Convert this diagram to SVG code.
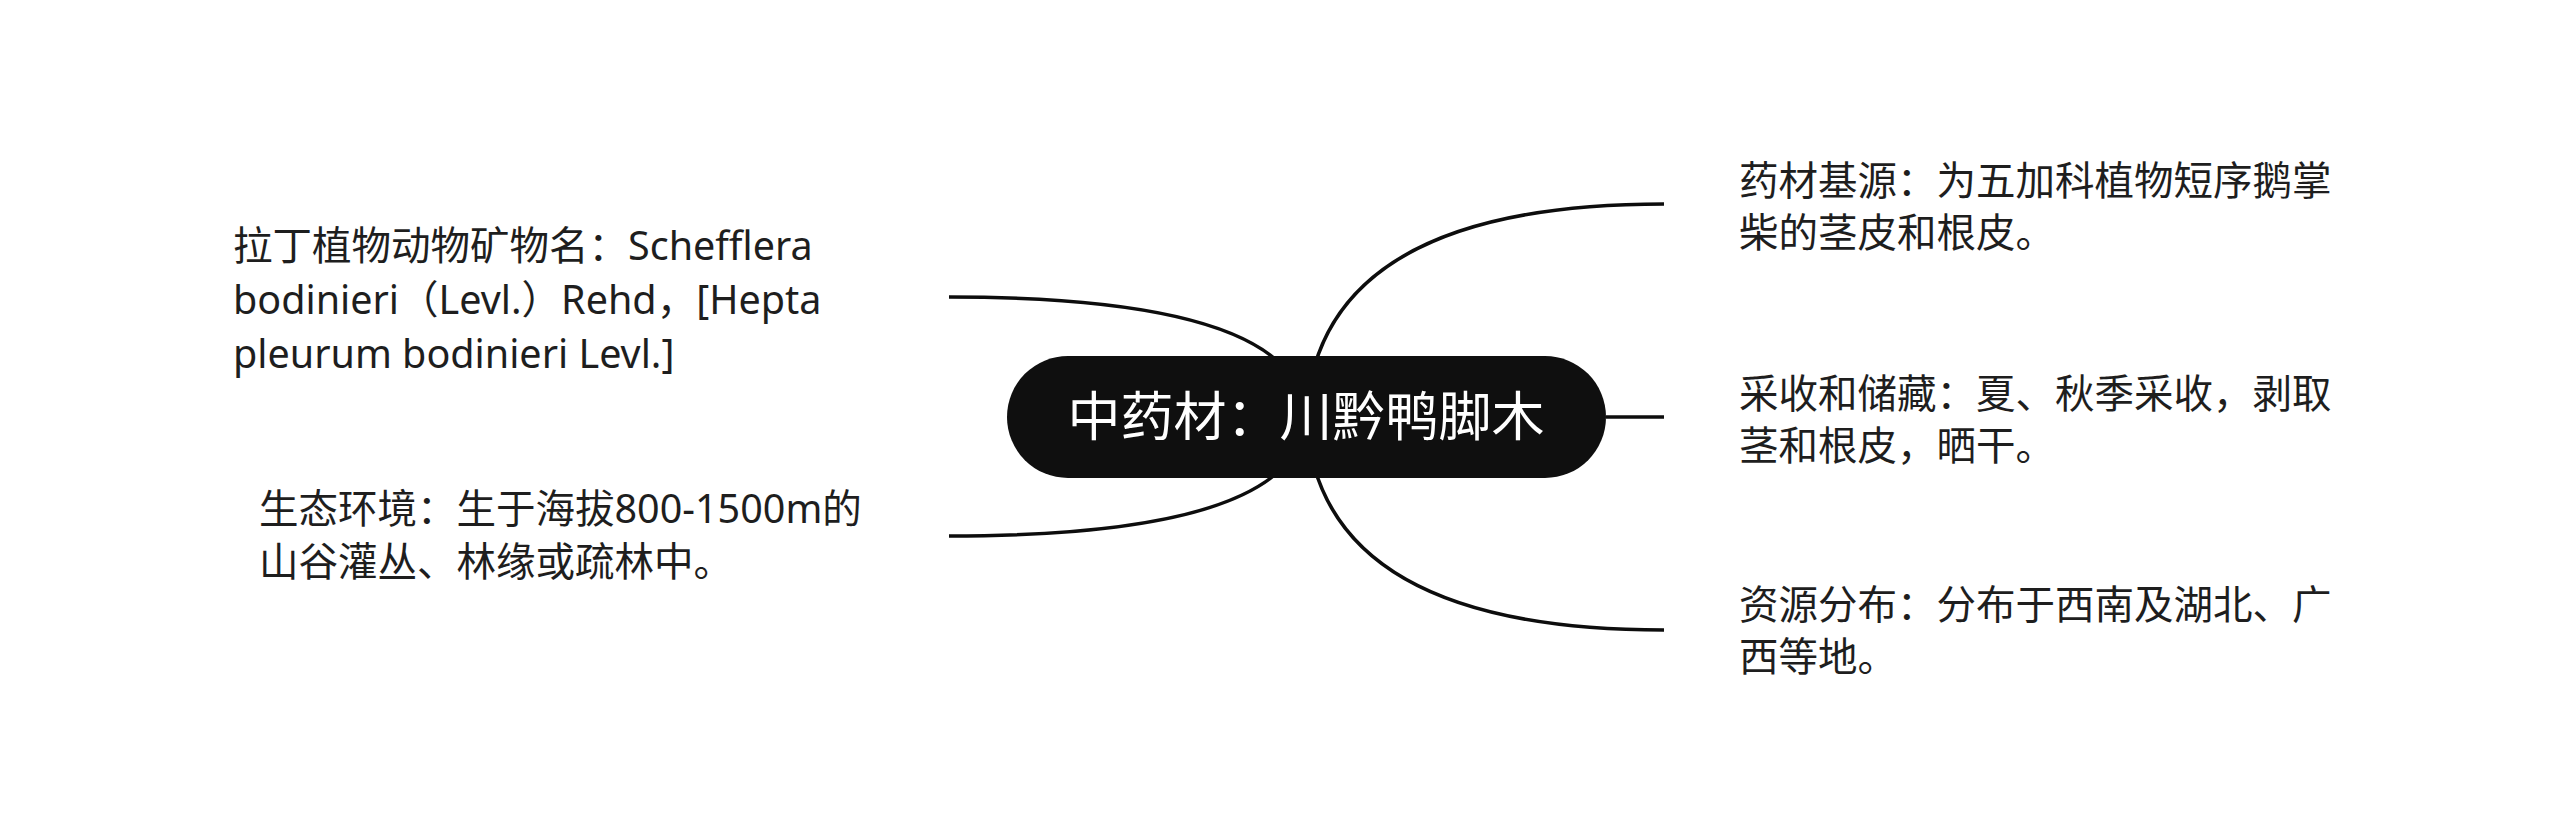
<svg xmlns="http://www.w3.org/2000/svg" width="2560" height="834" viewBox="0 0 2560 834">
<style>
.bg{fill:#ffffff}
.conn{fill:none;stroke:#0d0d0d;stroke-width:3.5;stroke-linecap:butt}
.pill{fill:#0f0f0f}
.ctext{font-family:"Noto Sans CJK SC","Noto Sans",sans-serif;font-size:53px;fill:#ffffff}
.ntext{font-family:"Noto Sans","Noto Sans CJK SC",sans-serif;font-size:39.5px;fill:#1e1e1e}
</style>
<rect class="bg" x="0" y="0" width="2560" height="834"/>
<g id="connectors">
<path class="conn" d="M 949 297 Q 1300 297 1306 417"/>
<path class="conn" d="M 949 536 Q 1300 536 1306 417"/>
<path class="conn" d="M 1664 204 Q 1318 204 1306 417"/>
<path class="conn" d="M 1606 417 L 1664 417"/>
<path class="conn" d="M 1664 630 Q 1318 630 1306 417"/>
</g>
<g id="root">
<rect class="pill" x="1007" y="356" width="599" height="122" rx="61" ry="61"/>
<text class="ctext" x="1306" y="436" text-anchor="middle">中药材：川黔鸭脚木</text>
</g>
<g id="node-latin">
<text class="ntext" x="233"><tspan x="233" y="260">拉丁植物动物矿物名：Schefflera</tspan><tspan x="233" y="314">bodinieri（Levl.）Rehd，[Hepta</tspan><tspan x="233" y="368">pleurum bodinieri Levl.]</tspan></text>
</g>
<g id="node-habitat">
<text class="ntext" x="259"><tspan x="259" y="523">生态环境：生于海拔800-1500m的</tspan><tspan x="259" y="576">山谷灌丛、林缘或疏林中。</tspan></text>
</g>
<g id="node-source">
<text class="ntext" x="1739"><tspan x="1739" y="195">药材基源：为五加科植物短序鹅掌</tspan><tspan x="1739" y="247">柴的茎皮和根皮。</tspan></text>
</g>
<g id="node-harvest">
<text class="ntext" x="1739"><tspan x="1739" y="408">采收和储藏：夏、秋季采收，剥取</tspan><tspan x="1739" y="460">茎和根皮，晒干。</tspan></text>
</g>
<g id="node-distribution">
<text class="ntext" x="1739"><tspan x="1739" y="619">资源分布：分布于西南及湖北、广</tspan><tspan x="1739" y="671">西等地。</tspan></text>
</g>
</svg>
